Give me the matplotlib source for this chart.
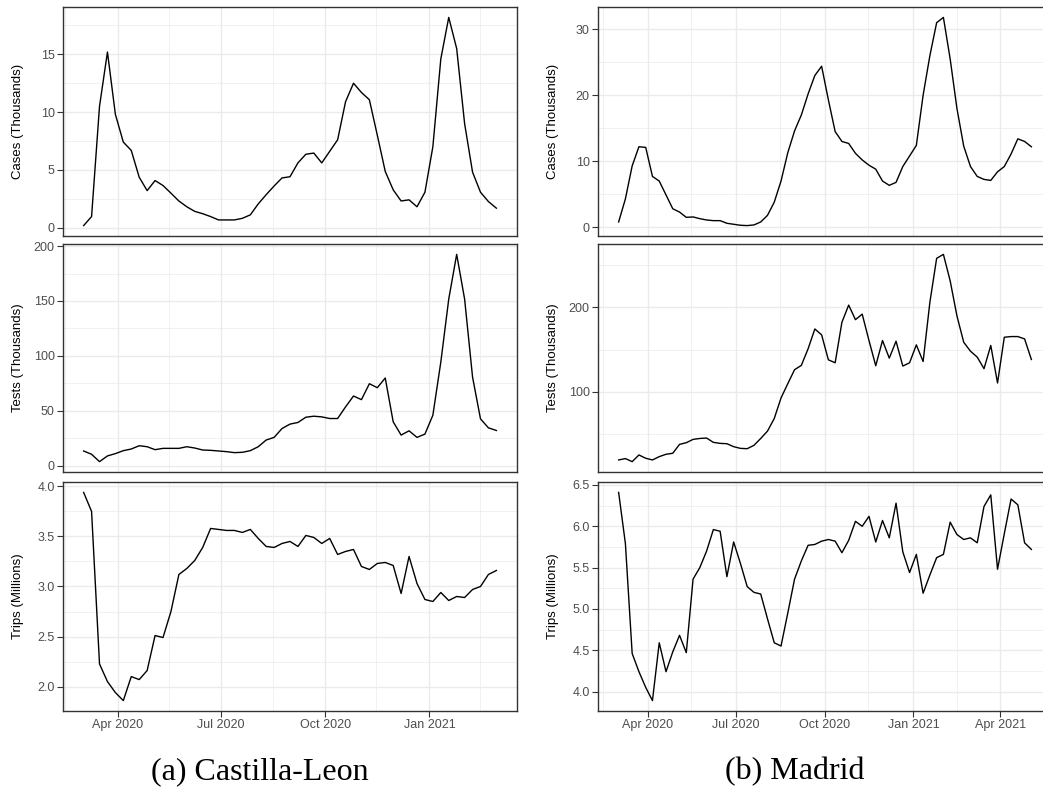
import pandas as pd
import matplotlib
matplotlib.use("Agg")
import matplotlib.pyplot as plt
import matplotlib.dates as mdates

# weekly series, first week starting 2 March 2020
cl_start, cl_weeks = "2020-03-02", 53
md_start, md_weeks = "2020-03-02", 62

cl_cases = [0.17, 0.95, 10.5, 15.2, 9.8, 7.4, 6.68, 4.36, 3.2, 4.07, 3.64, 2.98, 2.3,
            1.8, 1.4, 1.2, 0.95, 0.66, 0.66, 0.66, 0.8, 1.1, 2.05, 2.85, 3.6, 4.3,
            4.4, 5.6, 6.35, 6.45, 5.6, 6.6, 7.6, 10.9, 12.5, 11.7, 11.07, 8.0, 4.86,
            3.27, 2.3, 2.4, 1.8, 3.06, 7.0, 14.6, 18.2, 15.5, 9.0, 4.8, 3.06, 2.25,
            1.68]
cl_tests = [13.3, 10.3, 3.6, 8.8, 10.9, 13.6, 15.1, 18.1, 17.2, 14.5, 15.7, 15.7, 15.7,
            17.2, 16.0, 14.2, 13.9, 13.3, 12.7, 11.8, 12.1, 13.6, 17.2, 23.3, 25.7,
            33.8, 37.8, 39.3, 44.1, 45.0, 44.4, 42.9, 42.9, 53.5, 63.4, 60.1, 74.6,
            71.0, 79.8, 39.9, 27.8, 31.7, 25.7, 28.7, 45.9, 94.3, 151.7, 192.5, 151.7,
            80.7, 42.6, 34.4, 32.0]
cl_trips = [3.94, 3.75, 2.226, 2.05, 1.94, 1.86, 2.1, 2.07, 2.16, 2.51, 2.49, 2.75,
            3.12, 3.18, 3.26, 3.39, 3.58, 3.57, 3.56, 3.56, 3.54, 3.57, 3.48, 3.4,
            3.39, 3.43, 3.45, 3.4, 3.51, 3.49, 3.43, 3.48, 3.32, 3.35, 3.37, 3.2,
            3.17, 3.23, 3.24, 3.21, 2.93, 3.3, 3.03, 2.87, 2.85, 2.94, 2.86, 2.9,
            2.89, 2.97, 3.0, 3.12, 3.16]

md_cases = [0.8, 4.3, 9.3, 12.2, 12.1, 7.7, 7.0, 4.9, 2.8, 2.3, 1.5, 1.56, 1.3, 1.1,
            1.0, 1.0, 0.6, 0.45, 0.3, 0.25, 0.35, 0.8, 1.8, 3.8, 7.0, 11.3, 14.6,
            17.0, 20.2, 23.0, 24.4, 19.3, 14.5, 13.0, 12.7, 11.2, 10.2, 9.4, 8.8,
            7.0, 6.35, 6.8, 9.2, 10.8, 12.4, 20.0, 26.0, 31.0, 31.8, 25.5, 18.0,
            12.3, 9.2, 7.7, 7.25, 7.1, 8.4, 9.2, 11.1, 13.4, 13.0, 12.2]
md_tests = [19.6, 21.2, 17.6, 25.5, 21.6, 19.6, 23.5, 26.3, 27.5, 38.0, 40.0, 43.9,
            45.0, 45.5, 40.4, 39.2, 38.8, 35.3, 33.3, 32.9, 36.9, 45.0, 53.7, 68.6,
            92.9, 109.8, 126.3, 131.4, 151.0, 174.5, 167.5, 138.0, 134.5, 182.4,
            202.7, 185.5, 192.0, 160.8, 131.0, 160.8, 140.0, 160.0, 130.6, 134.5,
            155.7, 136.0, 206.0, 258.0, 262.7, 231.4, 190.0, 158.8, 148.2, 141.2,
            127.5, 155.0, 110.6, 164.7, 165.5, 165.5, 162.7, 138.4]
md_trips = [6.41, 5.79, 4.46, 4.24, 4.05, 3.89, 4.59, 4.24, 4.48, 4.68, 4.47, 5.36,
            5.5, 5.7, 5.96, 5.94, 5.39, 5.81, 5.55, 5.27, 5.2, 5.18, 4.88, 4.59,
            4.55, 4.95, 5.36, 5.58, 5.77, 5.78, 5.82, 5.84, 5.82, 5.68, 5.83, 6.06,
            6.0, 6.12, 5.81, 6.07, 5.86, 6.28, 5.69, 5.44, 5.66, 5.19, 5.41, 5.62,
            5.66, 6.05, 5.9, 5.84, 5.86, 5.8, 6.24, 6.38, 5.48, 5.91, 6.33, 6.26,
            5.8, 5.72]

ylabels = ["Cases (Thousands)", "Tests (Thousands)", "Trips (Millions)"]
cl_yticks = [[0, 5, 10, 15], [0, 50, 100, 150, 200], [2.0, 2.5, 3.0, 3.5, 4.0]]
md_yticks = [[0, 10, 20, 30], [100, 200], [4.0, 4.5, 5.0, 5.5, 6.0, 6.5]]
cl_xticks = ["2020-04-01", "2020-07-01", "2020-10-01", "2021-01-01"]
md_xticks = ["2020-04-01", "2020-07-01", "2020-10-01", "2021-01-01", "2021-04-01"]
x_minor = ["2020-02-15", "2020-05-16", "2020-08-16", "2020-11-15", "2021-02-15",
           "2021-05-16"]

W, H = 1043, 792
fig = plt.figure(figsize=(W / 100, H / 100), dpi=100)
plt.rcParams["font.family"] = ["Liberation Sans", "DejaVu Sans"]

rows = [(7, 236), (244, 472), (482, 711)]
cols = [(63, 517), (598, 1052)]


def panel(px, py, dates, y, yt, xt, ylab, show_x):
    x0, x1 = px
    y0, y1 = py
    ax = fig.add_axes([x0 / W, 1 - y1 / H, (x1 - x0) / W, (y1 - y0) / H])
    ax.plot(dates, y, color="black", lw=1.0)
    lo, hi = min(y), max(y)
    ax.set_yticks(yt)
    step = yt[1] - yt[0]
    minors = [yt[0] - step / 2] + [v + step / 2 for v in yt]
    ax.set_yticks(minors, minor=True)
    if isinstance(yt[0], float):
        ax.set_yticklabels([f"{v:.1f}" for v in yt])
    ax.set_xticks(pd.to_datetime(xt))
    ax.set_xticks(pd.to_datetime(x_minor), minor=True)
    ax.set_xlim(dates[0] - (dates[-1] - dates[0]) * 0.05,
                dates[-1] + (dates[-1] - dates[0]) * 0.05)
    ax.set_ylim(lo - 0.05 * (hi - lo), hi + 0.05 * (hi - lo))
    ax.xaxis.set_major_formatter(mdates.DateFormatter("%b %Y"))
    ax.grid(True, which="major", color="#EBEBEB", lw=1.0)
    ax.grid(True, which="minor", color="#EBEBEB", lw=0.5)
    ax.set_axisbelow(True)
    for s in ax.spines.values():
        s.set_color("#333333")
        s.set_linewidth(1.0)
    ax.tick_params(which="major", length=4, width=0.8, color="#333333",
                   labelcolor="#4D4D4D", labelsize=9, pad=2)
    ax.tick_params(which="minor", length=0)
    if not show_x:
        ax.tick_params(axis="x", which="major", length=0, labelbottom=False)
    ax.set_ylabel(ylab, fontsize=9.5, color="black")
    ax.yaxis.set_label_coords((24 - x0) / (x1 - x0), 0.5)
    return ax


cl_dates = pd.date_range(cl_start, periods=cl_weeks, freq="7D")
md_dates = pd.date_range(md_start, periods=md_weeks, freq="7D")
cl_data = [cl_cases, cl_tests, cl_trips]
md_data = [md_cases, md_tests, md_trips]

for i in range(3):
    panel((cols[0][0], cols[0][1]), rows[i], cl_dates, cl_data[i], cl_yticks[i],
          cl_xticks, ylabels[i], i == 2)
    ax = panel(cols[1], rows[i], md_dates, md_data[i], md_yticks[i], md_xticks,
               ylabels[i], i == 2)
    ax.yaxis.set_label_coords((559 - cols[1][0]) / (cols[1][1] - cols[1][0]), 0.5)

fig.text(260 / W, 1 - 772 / H, "(a) Castilla-Leon", ha="center", va="center",
         fontsize=23, family=["Liberation Serif", "DejaVu Serif"])
fig.text(795 / W, 1 - 772 / H, "(b) Madrid", ha="center", va="center",
         fontsize=23, family=["Liberation Serif", "DejaVu Serif"])

fig.savefig("out.png", dpi=100)
